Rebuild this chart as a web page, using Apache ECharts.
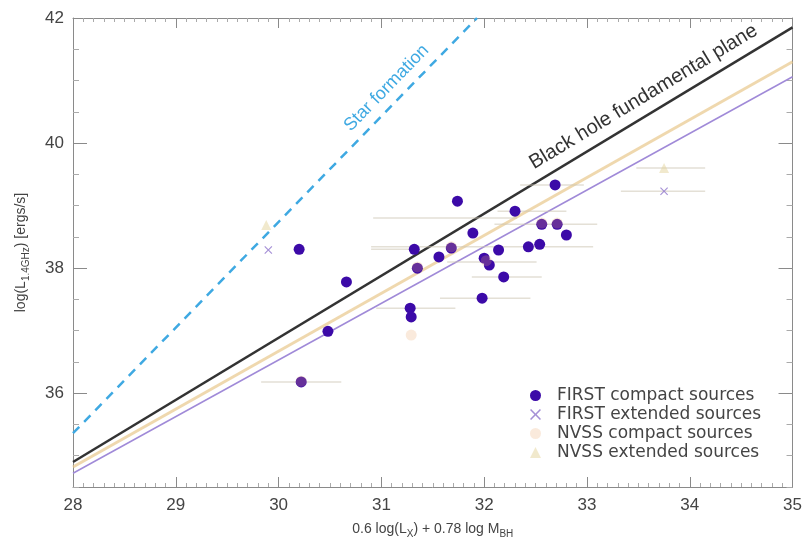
<!DOCTYPE html>
<html>
<head>
<meta charset="utf-8">
<script src="https://cdn.jsdelivr.net/npm/echarts@6/dist/echarts.min.js"></script>
<style>
  html, body { margin: 0; padding: 0; background: #fff; }
  #main { width: 805px; height: 544px; }
</style>
</head>
<body>
<div id="main"></div>
<script>
  // points: [x, y]
  var firstCompact = [
    [30.20, 38.30], [30.66, 37.78], [30.48, 36.99], [30.22, 36.18],
    [31.74, 39.07], [31.89, 38.56], [31.32, 38.30], [31.68, 38.32],
    [31.56, 38.18], [32.14, 38.29], [31.35, 38.00], [32.00, 38.16],
    [32.05, 38.05], [32.19, 37.86], [31.98, 37.52], [31.28, 37.36],
    [31.29, 37.22], [32.69, 39.33], [32.30, 38.91], [32.56, 38.70],
    [32.71, 38.70], [32.80, 38.53], [32.43, 38.34], [32.54, 38.38]
  ]
  var firstExtended = [[29.90, 38.29], [33.75, 39.23]]
  var nvssCompact = [
    [31.29, 36.93], [31.68, 38.34], [32.56, 38.72], [32.71, 38.72],
    [32.02, 38.12], [31.35, 38.02], [30.22, 36.19]
  ]
  var nvssExtended = [[29.88, 38.69], [33.75, 39.60]]
  // horizontal error bars: [y, xLow, xHigh]
  var errBars = [
    [36.18, 29.83, 30.61], [37.52, 31.57, 32.45], [37.36, 30.95, 31.72],
    [37.86, 31.88, 32.56], [38.10, 31.64, 32.51], [38.34, 30.90, 33.06],
    [38.70, 32.10, 33.10], [38.80, 30.92, 32.32], [39.33, 32.35, 32.97],
    [38.91, 32.13, 32.80], [39.60, 33.48, 34.15], [39.23, 33.33, 34.15],
    [38.30, 30.90, 31.30]
  ]
  // relations
  var starFormation = [[28, 35.36], [31.93, 42]]
  var bhPlane = [[28, 34.90], [35, 41.85]]
  var nvssFit = [[28, 34.82], [35, 41.30]]
  var firstFit = [[28, 34.72], [35, 41.06]]
  var yMajor = [36, 38, 40, 42]

  var myChart = echarts.init(document.getElementById('main'))
  var font = 'Liberation Sans, Arial, sans-serif'
  var axisGray = '#8a8a8a'
  var crossPath = 'path://M0,1L1,0L5,4L9,0L10,1L6,5L10,9L9,10L5,6L1,10L0,9L4,5Z'

  function xAx (pos, showLabel) {
    return {
      type: 'value', position: pos, min: 28, max: 35, interval: 1,
      axisLine: { show: true, onZero: false, lineStyle: { color: axisGray } },
      axisTick: { show: true, inside: true, length: 10, lineStyle: { color: axisGray } },
      minorTick: { show: true, splitNumber: 10, length: 4, lineStyle: { color: '#aaa' } },
      splitLine: { show: false },
      axisLabel: { show: showLabel, margin: 10, color: '#444', fontSize: 17, fontFamily: font },
      name: showLabel ? '0.6 log(L{sub|X}) + 0.78 log M{sub|BH}' : '',
      nameLocation: 'middle',
      nameGap: 32,
      nameTextStyle: {
        color: '#444', fontSize: 14, fontFamily: font, lineHeight: 20,
        rich: { sub: { fontSize: 10, fontFamily: font, color: '#444', verticalAlign: 'bottom', lineHeight: 14 } }
      }
    }
  }
  function yMinor (pos, showLabel) {
    return {
      type: 'value', position: pos, min: 34.5, max: 42, interval: 0.5,
      axisLine: { show: true, onZero: false, lineStyle: { color: axisGray } },
      axisTick: { show: true, inside: true, length: 6, lineStyle: { color: '#aaa' } },
      splitLine: { show: false },
      axisLabel: {
        show: showLabel, margin: 9, color: '#444', fontSize: 17, fontFamily: font,
        formatter: function (v) { return yMajor.indexOf(v) >= 0 ? String(v) : '' }
      },
      name: showLabel ? 'log(L{sub|1.4GHz}) [ergs/s]' : '',
      nameLocation: 'middle',
      nameGap: 42,
      nameTextStyle: {
        color: '#444', fontSize: 14, fontFamily: font, lineHeight: 20,
        rich: { sub: { fontSize: 10, fontFamily: font, color: '#444', verticalAlign: 'bottom', lineHeight: 14 } }
      }
    }
  }
  function yMajorAx (pos) {
    return {
      type: 'value', position: pos, min: 34.5, max: 42,
      axisLine: { show: false },
      axisTick: { show: true, inside: true, length: 14, customValues: yMajor, lineStyle: { color: axisGray } },
      splitLine: { show: false },
      axisLabel: { show: false }
    }
  }

  function fitLine (name, data, color, width, type) {
    return {
      name: name, type: 'line', data: data, showSymbol: false, silent: true, z: 1,
      lineStyle: { color: color, width: width, type: type || 'solid' }
    }
  }

  var option = {
    animation: false,
    backgroundColor: '#fff',
    grid: { left: 73, right: 8, top: 18, bottom: 57 },
    xAxis: [xAx('bottom', true), xAx('top', false)],
    yAxis: [yMinor('left', true), yMajorAx('left'), yMinor('right', false), yMajorAx('right')],
    legend: {
      orient: 'vertical', left: 525, top: 381, itemGap: 0,
      itemWidth: 11, itemHeight: 11,
      data: ['FIRST compact sources', 'FIRST extended sources', 'NVSS compact sources', 'NVSS extended sources'],
      textStyle: { color: '#444', fontSize: 17, fontFamily: 'DejaVu Sans, sans-serif', lineHeight: 19, padding: [0, 0, 0, 11] }
    },
    series: [
      fitLine('nvss fit', nvssFit, 'rgba(232,200,140,0.7)', 3),
      fitLine('first fit', firstFit, '#a08ad8', 1.5),
      fitLine('bh plane', bhPlane, '#333333', 2.5),
      fitLine('star formation', starFormation, '#3fa9e2', 2.5, [9, 7]),
      {
        name: 'errors', type: 'custom', silent: true, z: 2,
        data: errBars,
        renderItem: function (params, api) {
          var a = api.coord([api.value(1), api.value(0)])
          var b = api.coord([api.value(2), api.value(0)])
          return {
            type: 'line',
            shape: { x1: a[0], y1: a[1], x2: b[0], y2: b[1] },
            style: { stroke: 'rgba(205,198,180,0.55)', lineWidth: 1.5 }
          }
        }
      },
      {
        name: 'FIRST compact sources', type: 'scatter', data: firstCompact, z: 3,
        symbol: 'circle', symbolSize: 11,
        itemStyle: { color: '#3c0aa8', opacity: 1 }
      },
      {
        name: 'FIRST extended sources', type: 'scatter', data: firstExtended, z: 3,
        symbol: crossPath, symbolSize: 8,
        itemStyle: { color: '#8e74cc' }
      },
      {
        name: 'NVSS compact sources', type: 'scatter', data: nvssCompact, z: 4,
        symbol: 'circle', symbolSize: 11,
        itemStyle: { color: 'rgba(235,170,110,0.3)' }
      },
      {
        name: 'NVSS extended sources', type: 'scatter', data: nvssExtended, z: 3,
        symbol: 'triangle', symbolSize: 10,
        itemStyle: { color: 'rgba(226,208,150,0.6)' }
      }
    ]
  }
  myChart.setOption(option)

  // rotated labels placed along the relations
  function angleOf (line) {
    var p = myChart.convertToPixel({ xAxisIndex: 0, yAxisIndex: 0 }, line[0])
    var q = myChart.convertToPixel({ xAxisIndex: 0, yAxisIndex: 0 }, line[1])
    return Math.atan2(p[1] - q[1], q[0] - p[0])
  }
  var sfPos = myChart.convertToPixel({ xAxisIndex: 0, yAxisIndex: 0 }, [31.05, 40.88])
  var bhPos = myChart.convertToPixel({ xAxisIndex: 0, yAxisIndex: 0 }, [33.55, 40.74])
  myChart.setOption({
    graphic: [
      {
        type: 'text', x: sfPos[0], y: sfPos[1], rotation: angleOf(starFormation),
        style: { text: 'Star formation', fill: '#3fa9e2', fontSize: 18, fontFamily: font, align: 'center', verticalAlign: 'middle' }
      },
      {
        type: 'text', x: bhPos[0], y: bhPos[1], rotation: angleOf(bhPlane),
        style: { text: 'Black hole fundamental plane', fill: '#333', fontSize: 20, fontFamily: font, align: 'center', verticalAlign: 'middle' }
      }
    ]
  })
</script>
</body>
</html>
